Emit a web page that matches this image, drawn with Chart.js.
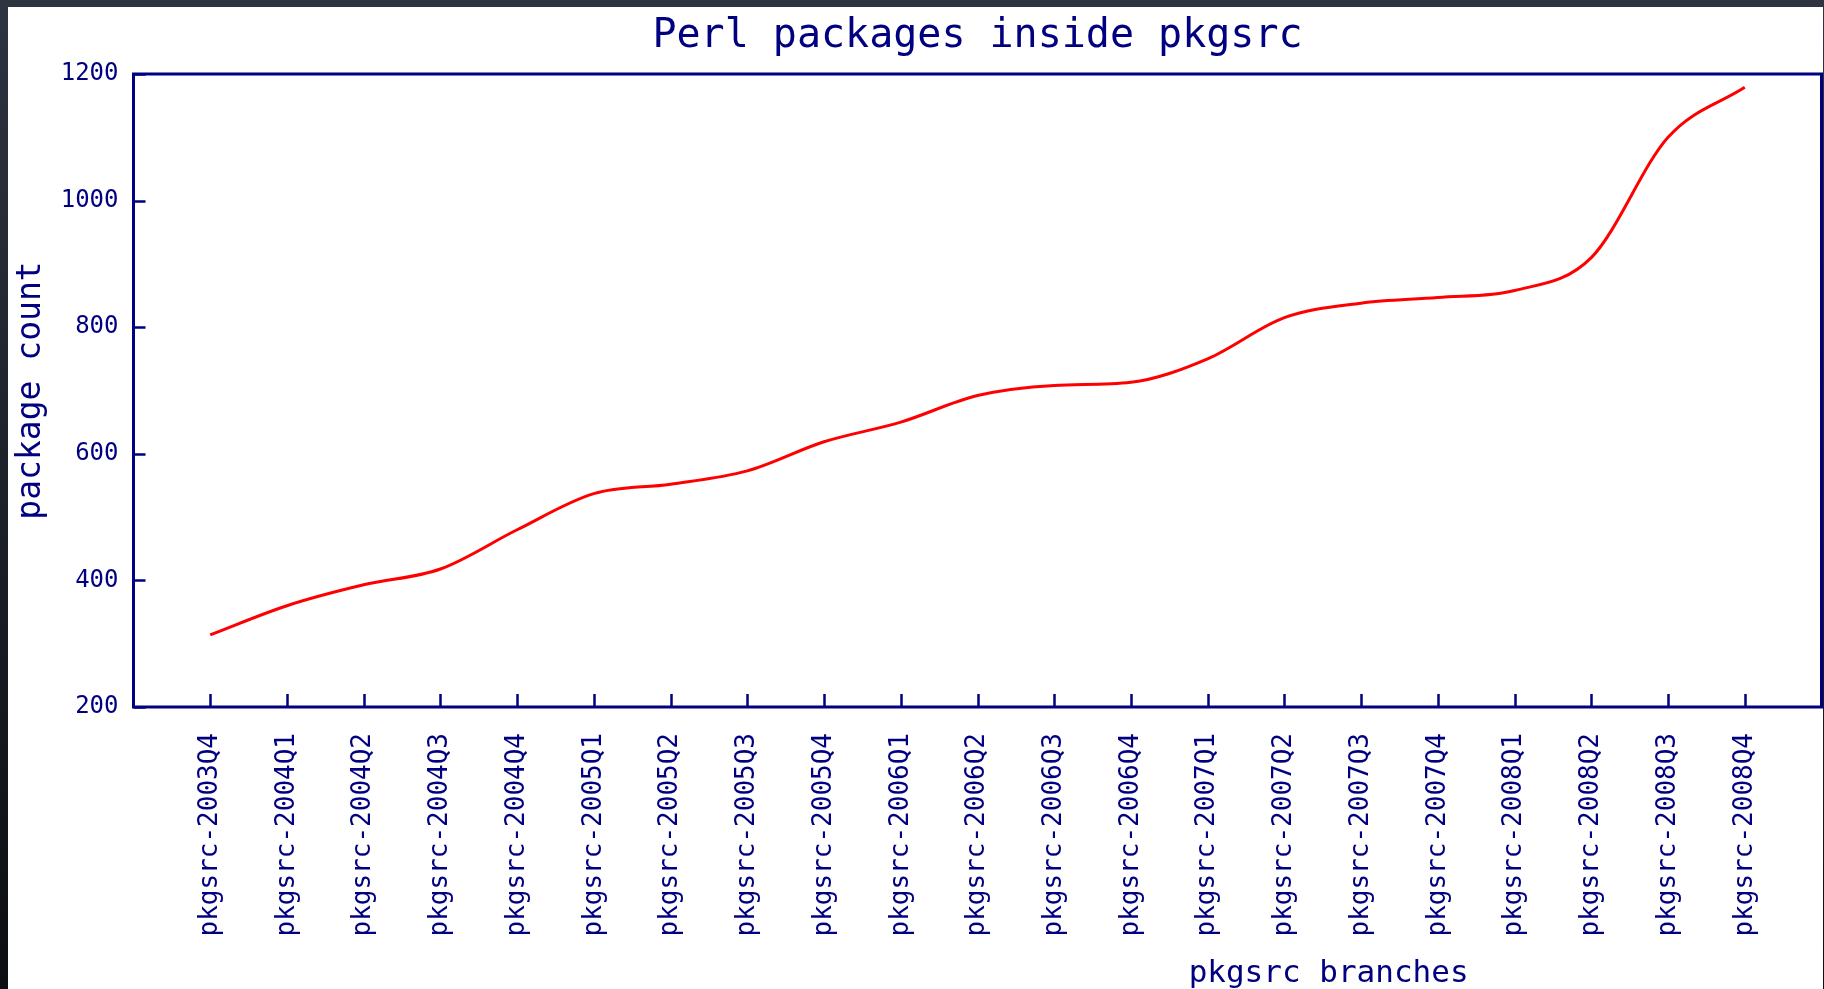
<!DOCTYPE html>
<html>
<head>
<meta charset="utf-8">
<title>Perl packages inside pkgsrc</title>
<script src="https://cdn.jsdelivr.net/npm/chart.js@4.4.1/dist/chart.umd.min.js"></script>
<style>
    html, body { margin: 0; padding: 0; }
    body {
        width: 1824px; height: 989px; overflow: hidden;
        background: linear-gradient(to bottom, #2e3440, #0c0e11);
    }
    #wrap {
        position: absolute; left: 8px; top: 7px;
        width: 1815px; height: 982px; background: #ffffff;
    }
</style>
</head>
<body>
<div id="wrap"><canvas id="myChart"></canvas></div>
<script>
// pkgsrc quarterly branches
const branches = [
    'pkgsrc-2003Q4', 'pkgsrc-2004Q1', 'pkgsrc-2004Q2', 'pkgsrc-2004Q3', 'pkgsrc-2004Q4',
    'pkgsrc-2005Q1', 'pkgsrc-2005Q2', 'pkgsrc-2005Q3', 'pkgsrc-2005Q4',
    'pkgsrc-2006Q1', 'pkgsrc-2006Q2', 'pkgsrc-2006Q3', 'pkgsrc-2006Q4',
    'pkgsrc-2007Q1', 'pkgsrc-2007Q2', 'pkgsrc-2007Q3', 'pkgsrc-2007Q4',
    'pkgsrc-2008Q1', 'pkgsrc-2008Q2', 'pkgsrc-2008Q3', 'pkgsrc-2008Q4'
];
// perl package count per branch
const counts = [
    314, 360, 393, 418, 480,
    537, 552, 573, 619,
    650, 692, 708, 713,
    750, 815, 838, 847,
    858, 910, 1100, 1179
];
const yTicks = [200, 400, 600, 800, 1000, 1200];

const chartTitle = 'Perl packages inside pkgsrc';
const xTitle = 'pkgsrc branches';
const yTitle = 'package count';

const NAVY = '#000080';
const MONO = '"DejaVu Sans Mono", "Liberation Mono", monospace';

// frame, inward ticks and the off-centre x title
const framePlugin = {
    id: 'frame',
    afterDraw(chart){
        const ctx = chart.ctx;
        const a = chart.chartArea;
        const x = chart.scales.x, y = chart.scales.y;
        ctx.save();
        ctx.strokeStyle = NAVY;
        ctx.lineWidth = 2.5;
        ctx.beginPath();
        x.ticks.forEach(t => {
            const px = Math.round(x.getPixelForValue(t.value)) + 0.5;
            ctx.moveTo(px, a.bottom);
            ctx.lineTo(px, a.bottom - 13);
        });
        y.ticks.forEach(t => {
            const py = Math.round(y.getPixelForValue(t.value)) + 0.5;
            ctx.moveTo(a.left, py);
            ctx.lineTo(a.left + 12, py);
        });
        ctx.stroke();
        ctx.lineWidth = 3;
        ctx.strokeRect(a.left, a.top, a.right - a.left, a.bottom - a.top);

        ctx.fillStyle = NAVY;
        ctx.font = '31px ' + MONO;
        ctx.textAlign = 'center';
        ctx.textBaseline = 'alphabetic';
        ctx.fillText(xTitle, a.left + (a.right - a.left) * 0.708, 975);
        ctx.restore();
    }
};

const ctx = document.getElementById('myChart').getContext('2d');
new Chart(ctx, {
    type: 'line',
    data: {
        datasets: [{
            label: yTitle,
            data: counts.map((c, i) => ({x: i + 1, y: c})),
            borderColor: '#ff0000',
            borderWidth: 3,
            pointRadius: 0,
            fill: false,
            cubicInterpolationMode: 'monotone'
        }]
    },
    options: {
        responsive: true,
        maintainAspectRatio: false,
        animation: false,
        layout: { padding: { left: 0, right: 1.5, top: 0, bottom: 0 } },
        plugins: {
            legend: { display: false },
            tooltip: { enabled: false },
            title: {
                display: true,
                text: chartTitle,
                color: NAVY,
                fullSize: false,
                font: { family: MONO, size: 40, weight: 'normal', lineHeight: 1.2 },
                padding: { top: 6, bottom: 13 }
            }
        },
        scales: {
            x: {
                type: 'linear',
                min: 0,
                max: branches.length + 1,
                grid: { display: false },
                border: { display: false },
                afterBuildTicks: scale => {
                    scale.ticks = branches.map((b, i) => ({value: i + 1}));
                },
                afterFit: scale => { scale.height = 282; },
                ticks: {
                    autoSkip: false,
                    minRotation: 90,
                    maxRotation: 90,
                    padding: 18,
                    color: NAVY,
                    font: { family: MONO, size: 26 },
                    callback: v => branches[v - 1] || ''
                }
            },
            y: {
                min: 200,
                max: 1200,
                grid: { display: false },
                border: { display: false },
                afterBuildTicks: scale => {
                    scale.ticks = yTicks.map(v => ({value: v}));
                },
                afterFit: scale => { scale.width = 125.5; },
                ticks: {
                    padding: 7,
                    color: NAVY,
                    font: { family: MONO, size: 24 },
                    callback: v => String(v)
                },
                title: {
                    display: true,
                    text: yTitle,
                    color: NAVY,
                    font: { family: MONO, size: 33 },
                    padding: { top: 4, bottom: 0 }
                }
            }
        }
    },
    plugins: [framePlugin]
});
</script>
</body>
</html>
